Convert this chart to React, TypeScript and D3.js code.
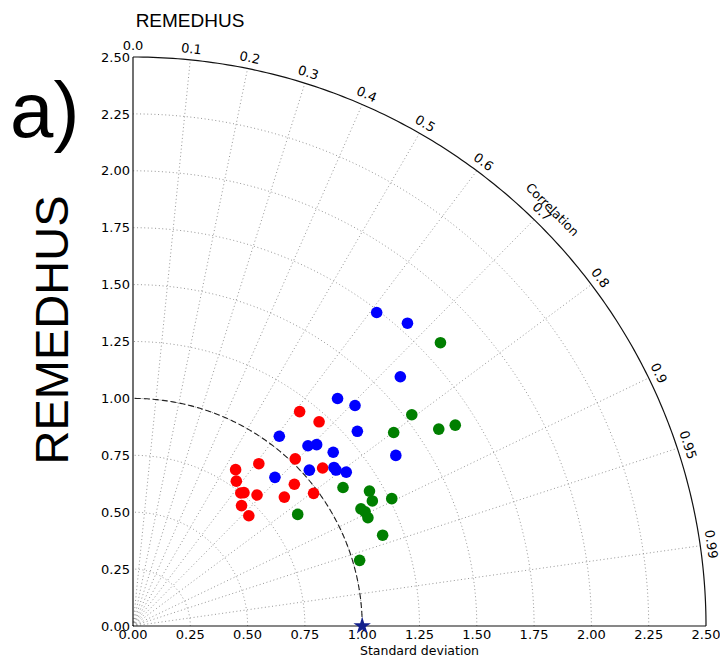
import React, { useEffect, useRef } from 'react';
import * as d3 from 'd3';

// tick values
const stdTicks = [0, 0.25, 0.5, 0.75, 1.0, 1.25, 1.5, 1.75, 2.0, 2.25, 2.5];
const corrTicks = [0.0, 0.1, 0.2, 0.3, 0.4, 0.5, 0.6, 0.7, 0.8, 0.9, 0.95, 0.99];

// reference point
const refStd = 1.0;

// model points: standard deviation + correlation
const blueStd = [1.74, 1.79, 1.6, 1.34, 1.37, 1.3, 1.05, 1.1, 1.13, 1.16, 1.37, 1.03, 1.12, 1.12, 1.15, 0.9];
const blueCorr = [0.611, 0.669, 0.729, 0.666, 0.707, 0.753, 0.608, 0.694, 0.709, 0.753, 0.837, 0.747, 0.783, 0.791, 0.809, 0.688];

const redStd = [1.19, 1.21, 1.02, 0.9, 0.82, 1.08, 0.78, 0.94, 0.76, 0.75, 0.79, 0.87, 0.98, 0.71, 0.7];
const redCorr = [0.611, 0.671, 0.694, 0.61, 0.546, 0.766, 0.578, 0.749, 0.637, 0.627, 0.685, 0.759, 0.804, 0.667, 0.722];

const greenStd = [1.83, 1.53, 1.59, 1.66, 1.42, 1.1, 1.19, 1.18, 1.26, 0.87, 1.12, 1.13, 1.13, 1.16, 1.03];
const greenCorr = [0.733, 0.795, 0.839, 0.847, 0.801, 0.833, 0.867, 0.885, 0.896, 0.826, 0.888, 0.896, 0.907, 0.939, 0.96];

const App = () => {
    const svgRef = useRef(null);

    useEffect(() => {
        const svg = d3.select(svgRef.current);
        svg.selectAll('*').remove();

        const maxStd = 2.5;
        const x = d3.scaleLinear().domain([0, maxStd]).range([133, 706]);
        const y = d3.scaleLinear().domain([0, maxStd]).range([626, 57]);

        const px = (s, c) => x(s * c);
        const py = (s, c) => y(s * Math.sqrt(1 - c * c));

        const arcPath = (r) => d3.line()(d3.range(0, 90.5, 0.5).map(a => {
            const t = a * Math.PI / 180;
            return [x(r * Math.cos(t)), y(r * Math.sin(t))];
        }));

        const tickFont = 'DejaVu Sans, sans-serif';
        const grid = svg.append('g')
            .attr('fill', 'none')
            .attr('stroke', '#8a8a8a')
            .attr('stroke-width', 0.9)
            .attr('stroke-dasharray', '1,2.6');

        // std dev arcs
        stdTicks.filter(s => s > 0 && s < maxStd).forEach(s => {
            grid.append('path').attr('d', arcPath(s));
        });

        // correlation rays
        corrTicks.filter(c => c > 0).forEach(c => {
            grid.append('line')
                .attr('x1', px(0, c)).attr('y1', py(0, c))
                .attr('x2', px(maxStd, c)).attr('y2', py(maxStd, c));
        });

        // reference std arc
        svg.append('path')
            .attr('d', arcPath(refStd))
            .attr('fill', 'none')
            .attr('stroke', '#222')
            .attr('stroke-width', 1.1)
            .attr('stroke-dasharray', '6,3');

        // frame
        const frame = svg.append('g').attr('fill', 'none').attr('stroke', '#111').attr('stroke-width', 1.2);
        frame.append('path').attr('d', arcPath(maxStd));
        frame.append('line').attr('x1', x(0)).attr('y1', y(0)).attr('x2', x(0)).attr('y2', y(maxStd));
        frame.append('line').attr('x1', x(0)).attr('y1', y(0)).attr('x2', x(maxStd)).attr('y2', y(0));

        // y tick labels
        svg.append('g').selectAll('text')
            .data(stdTicks)
            .enter()
            .append('text')
            .attr('x', x(0) - 3)
            .attr('y', d => y(d))
            .attr('dy', '0.36em')
            .attr('text-anchor', 'end')
            .style('font-family', tickFont)
            .style('font-size', '13px')
            .text(d => d.toFixed(2));

        // x tick labels
        svg.append('g').selectAll('text')
            .data(stdTicks)
            .enter()
            .append('text')
            .attr('x', d => x(d))
            .attr('y', y(0) + 13)
            .attr('text-anchor', 'middle')
            .style('font-family', tickFont)
            .style('font-size', '13px')
            .text(d => d.toFixed(2));

        svg.append('text')
            .attr('x', x(1.25))
            .attr('y', 655)
            .attr('text-anchor', 'middle')
            .style('font-family', tickFont)
            .style('font-size', '12.5px')
            .text('Standard deviation');

        // correlation tick labels
        const labelR = maxStd * 1.014;
        svg.append('g').selectAll('text')
            .data(corrTicks)
            .enter()
            .append('text')
            .attr('transform', d => {
                const rot = 90 - Math.acos(d) * 180 / Math.PI;
                return `translate(${px(labelR, d)},${py(labelR, d)}) rotate(${rot})`;
            })
            .attr('text-anchor', 'middle')
            .attr('dy', '0.1em')
            .style('font-family', tickFont)
            .style('font-size', '13px')
            .text(d => d === 0 ? '0.0' : String(d));

        const cLab = Math.SQRT1_2;
        svg.append('text')
            .attr('transform', `translate(${px(maxStd * 1.035, cLab)},${py(maxStd * 1.035, cLab)}) rotate(45)`)
            .attr('text-anchor', 'middle')
            .attr('dy', '0.35em')
            .style('font-family', tickFont)
            .style('font-size', '12.5px')
            .text('Correlation');

        // points
        const series = [
            { std: redStd, corr: redCorr, color: '#ff0000' },
            { std: blueStd, corr: blueCorr, color: '#0000ff' },
            { std: greenStd, corr: greenCorr, color: '#007f00' },
        ];
        series.forEach(s => {
            svg.append('g').selectAll('circle')
                .data(s.std.map((v, i) => [v, s.corr[i]]))
                .enter()
                .append('circle')
                .attr('cx', d => px(d[0], d[1]))
                .attr('cy', d => py(d[0], d[1]))
                .attr('r', 5.8)
                .attr('fill', s.color);
        });

        svg.append('path')
            .attr('d', d3.symbol(d3.symbolStar).size(95)())
            .attr('transform', `translate(${px(refStd, 1)},${py(refStd, 1)})`)
            .attr('fill', '#13208c');

        // titles
        svg.append('text')
            .attr('x', 190)
            .attr('y', 27)
            .attr('text-anchor', 'middle')
            .style('font-family', 'Liberation Sans, Arial, sans-serif')
            .style('font-size', '19px')
            .text('REMEDHUS');

        svg.append('text')
            .attr('transform', 'translate(68,330) rotate(-90)')
            .attr('text-anchor', 'middle')
            .style('font-family', 'Liberation Sans, Arial, sans-serif')
            .style('font-size', '47px')
            .text('REMEDHUS');

        svg.append('text')
            .attr('x', 10)
            .attr('y', 137)
            .style('font-family', 'Liberation Sans, Arial, sans-serif')
            .style('font-size', '78px')
            .text('a)');
    }, []);

    return (
        <svg ref={svgRef} width={720} height={658} style={{ position: 'absolute', left: 0, top: 0, background: '#fff' }}></svg>
    );
};

export default App;
